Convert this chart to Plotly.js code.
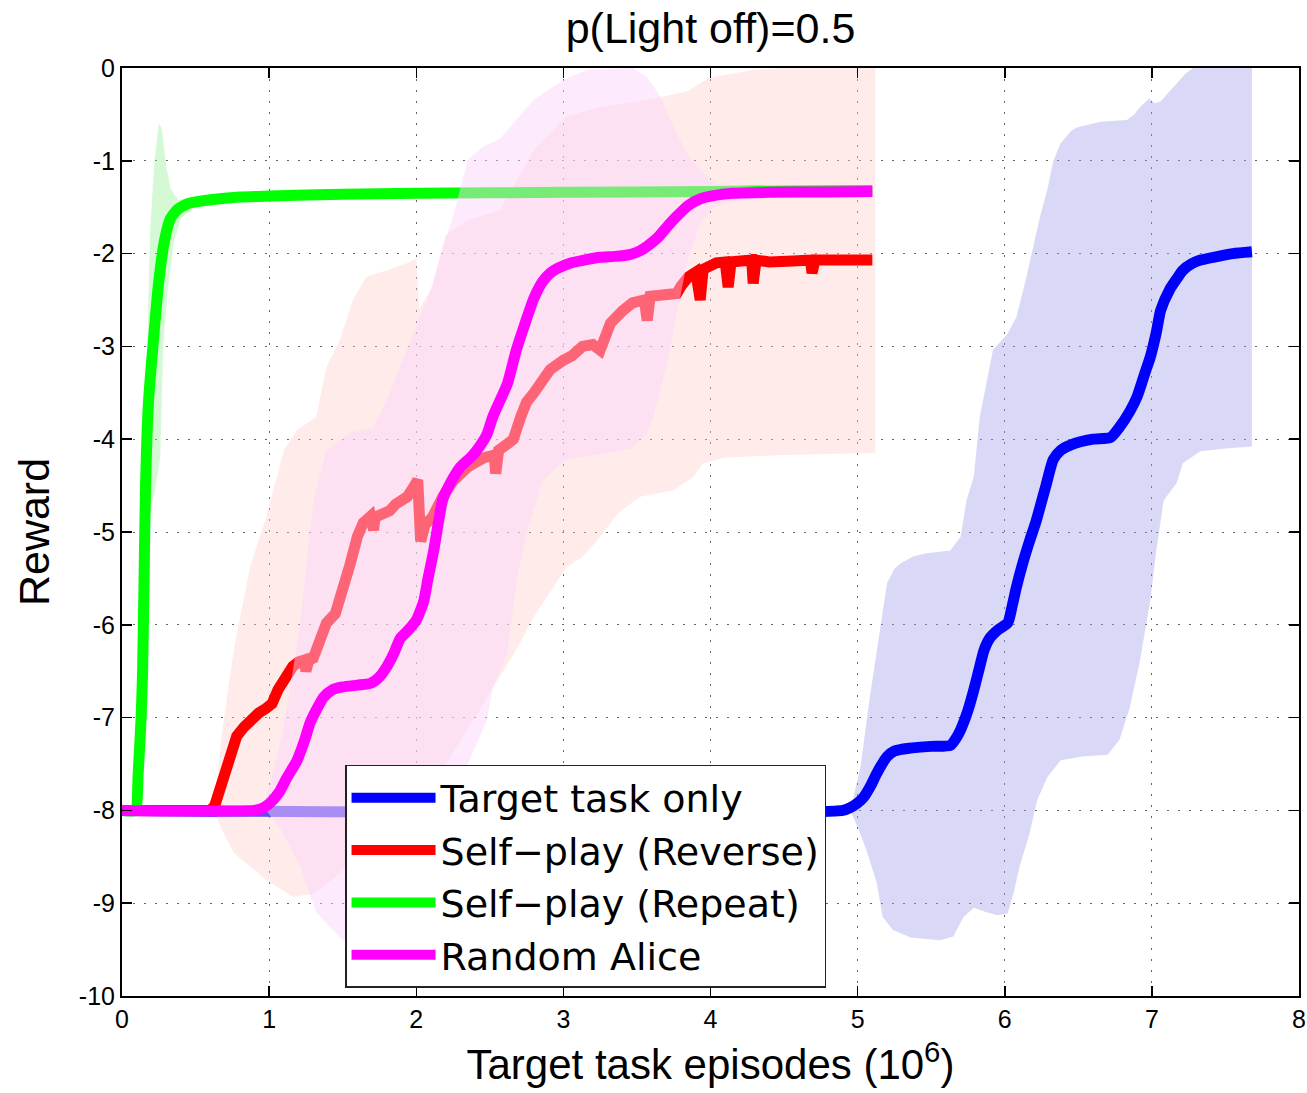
<!DOCTYPE html>
<html>
<head>
<meta charset="utf-8">
<script src="https://cdn.plot.ly/plotly-3.0.1.min.js"></script>
<style>
  html, body { margin: 0; padding: 0; background: #fff; }
  #chart { width: 1307px; height: 1093px; }
</style>
</head>
<body>
<div id="chart"></div>
<script>
// ---- Mean reward curves (x in millions of target task episodes) ----
const targetX = [0, 4.9, 4.95, 5.0, 5.04, 5.09, 5.13, 5.2, 5.25, 5.35, 5.5, 5.63, 5.67, 5.7, 5.75, 5.79, 5.83, 5.86, 5.9, 5.95, 6.02, 6.05, 6.08, 6.12, 6.17, 6.21, 6.24, 6.28, 6.33, 6.38, 6.45, 6.6, 6.72, 6.78, 6.85, 6.9, 6.95, 6.99, 7.03, 7.06, 7.12, 7.17, 7.21, 7.27, 7.33, 7.45, 7.55, 7.68];
const targetY = [-8, -8, -7.97, -7.92, -7.86, -7.73, -7.6, -7.42, -7.36, -7.33, -7.31, -7.3, -7.22, -7.13, -6.92, -6.7, -6.45, -6.27, -6.14, -6.06, -5.98, -5.8, -5.59, -5.35, -5.09, -4.9, -4.73, -4.5, -4.22, -4.12, -4.06, -4.0, -3.98, -3.87, -3.7, -3.54, -3.3, -3.11, -2.85, -2.61, -2.39, -2.27, -2.18, -2.11, -2.07, -2.03, -2.0, -1.98];

const reverseX = [0, 0.6, 0.63, 0.66, 0.69, 0.71, 0.74, 0.78, 0.83, 0.87, 0.93, 0.98, 1.02, 1.06, 1.1, 1.16, 1.2, 1.24, 1.25, 1.27, 1.3, 1.35, 1.39, 1.45, 1.5, 1.55, 1.6, 1.64, 1.69, 1.71, 1.72, 1.78, 1.82, 1.86, 1.94, 1.98, 2.01, 2.03, 2.06, 2.11, 2.15, 2.18, 2.25, 2.35, 2.46, 2.53, 2.54, 2.56, 2.62, 2.66, 2.71, 2.75, 2.8, 2.86, 2.91, 3.0, 3.06, 3.13, 3.2, 3.25, 3.28, 3.32, 3.4, 3.47, 3.55, 3.57, 3.59, 3.65, 3.72, 3.77, 3.8, 3.85, 3.9, 3.93, 3.95, 4.0, 4.04, 4.1, 4.12, 4.14, 4.22, 4.28, 4.29, 4.31, 4.4, 4.49, 4.56, 4.68, 4.69, 4.71, 4.84, 4.95, 5.1];
const reverseY = [-8, -8, -7.95, -7.8, -7.6, -7.5, -7.35, -7.2, -7.1, -7.03, -6.95, -6.9, -6.85, -6.7, -6.58, -6.45, -6.4, -6.38, -6.5, -6.38, -6.36, -6.16, -5.98, -5.88, -5.65, -5.35, -5.05, -4.9, -4.83, -4.98, -4.84, -4.8, -4.77, -4.7, -4.62, -4.52, -4.44, -5.1, -4.92, -4.84, -4.7, -4.62, -4.45, -4.3, -4.2, -4.17, -4.37, -4.12, -4.05, -4.0, -3.76, -3.6, -3.5, -3.36, -3.25, -3.15, -3.1, -3.0, -2.98, -3.04, -2.9, -2.75, -2.62, -2.53, -2.5, -2.72, -2.46, -2.44, -2.42, -2.43, -2.35, -2.25, -2.2, -2.5, -2.17, -2.12, -2.1, -2.09, -2.36, -2.09, -2.08, -2.07, -2.32, -2.07, -2.09, -2.1, -2.08, -2.07, -2.21, -2.07, -2.07, -2.06, -2.07];

const repeatX = [0, 0.09, 0.11, 0.13, 0.14, 0.15, 0.16, 0.18, 0.21, 0.25, 0.29, 0.33, 0.38, 0.45, 0.6, 0.8, 1.0, 1.5, 2.0, 3.0, 4.0, 5.1];
const repeatY = [-8, -8, -7.6, -7.0, -6.5, -5.5, -4.5, -3.6, -3.0, -2.3, -1.85, -1.62, -1.52, -1.46, -1.42, -1.39, -1.38, -1.36, -1.35, -1.34, -1.33, -1.32];

const aliceX = [0, 0.9, 0.95, 1.0, 1.07, 1.12, 1.19, 1.24, 1.28, 1.32, 1.37, 1.43, 1.5, 1.6, 1.69, 1.75, 1.8, 1.85, 1.89, 1.95, 2.0, 2.05, 2.08, 2.12, 2.15, 2.18, 2.24, 2.3, 2.38, 2.43, 2.48, 2.52, 2.57, 2.62, 2.68, 2.74, 2.8, 2.86, 2.91, 2.96, 3.05, 3.14, 3.25, 3.35, 3.45, 3.52, 3.57, 3.64, 3.7, 3.77, 3.85, 3.93, 4.04, 4.15, 4.4, 4.8, 5.1];
const aliceY = [-8, -8, -7.98, -7.93, -7.8, -7.65, -7.46, -7.25, -7.05, -6.92, -6.78, -6.7, -6.67, -6.65, -6.63, -6.56, -6.45, -6.3, -6.15, -6.05, -5.95, -5.75, -5.5, -5.19, -4.9, -4.65, -4.45, -4.3, -4.18, -4.08, -3.95, -3.76, -3.58, -3.4, -3.04, -2.75, -2.48, -2.3, -2.21, -2.16, -2.1, -2.07, -2.04, -2.03, -2.01, -1.97, -1.92, -1.83, -1.72, -1.6, -1.48, -1.41, -1.37, -1.35, -1.34, -1.335, -1.33];

// ---- Spread bands: upper and lower edges ----
const targetUpX = [4.95, 5.02, 5.08, 5.15, 5.2, 5.25, 5.29, 5.38, 5.47, 5.63, 5.7, 5.74, 5.79, 5.83, 5.88, 5.92, 6.02, 6.08, 6.14, 6.19, 6.24, 6.29, 6.33, 6.38, 6.45, 6.49, 6.65, 6.83, 6.88, 6.92, 6.98, 7.02, 7.06, 7.12, 7.17, 7.23, 7.28, 7.68];
const targetUpY = [-8, -7.53, -6.81, -6.09, -5.55, -5.4, -5.34, -5.26, -5.23, -5.2, -5.05, -4.66, -4.4, -3.76, -3.35, -3.04, -2.86, -2.68, -2.3, -1.96, -1.6, -1.31, -1.0, -0.81, -0.68, -0.64, -0.58, -0.56, -0.5, -0.42, -0.33, -0.38, -0.36, -0.25, -0.16, -0.06, 0, 0];
const targetLoX = [4.95, 5.0, 5.06, 5.13, 5.17, 5.24, 5.36, 5.56, 5.65, 5.72, 5.79, 5.88, 5.95, 6.02, 6.06, 6.1, 6.17, 6.22, 6.29, 6.38, 6.53, 6.7, 6.78, 6.85, 6.92, 6.99, 7.03, 7.08, 7.17, 7.21, 7.33, 7.5, 7.68];
const targetLoY = [-8, -8.18, -8.43, -8.78, -9.15, -9.29, -9.37, -9.4, -9.36, -9.15, -9.05, -9.1, -9.13, -9.11, -8.89, -8.61, -8.24, -7.89, -7.64, -7.46, -7.42, -7.4, -7.24, -6.89, -6.38, -5.73, -5.2, -4.66, -4.47, -4.26, -4.13, -4.1, -4.08];

const reverseUpX = [0.63, 0.67, 0.72, 0.76, 0.87, 0.98, 1.1, 1.19, 1.32, 1.39, 1.48, 1.57, 1.66, 1.8, 1.94, 2.0, 2.02, 2.11, 2.2, 2.35, 2.57, 2.8, 3.02, 3.25, 3.59, 3.84, 4.0, 4.3, 4.5, 5.12];
const reverseUpY = [-8, -7.3, -6.7, -6.27, -5.38, -4.84, -4.12, -3.9, -3.76, -3.22, -2.93, -2.5, -2.25, -2.18, -2.1, -2.05, -2.6, -2.36, -1.8, -1.64, -1.53, -0.88, -0.52, -0.42, -0.34, -0.25, -0.1, -0.02, 0, 0];
const reverseLoX = [0.63, 0.67, 0.76, 0.98, 1.16, 1.3, 1.48, 1.73, 2.0, 2.2, 2.4, 2.55, 2.68, 2.8, 3.02, 3.13, 3.25, 3.37, 3.52, 3.75, 3.88, 3.95, 4.09, 4.49, 5.12];
const reverseLoY = [-8, -8.18, -8.46, -8.75, -8.93, -8.9, -8.68, -8.3, -7.9, -7.5, -7.0, -6.6, -6.27, -5.91, -5.38, -5.27, -5.05, -4.8, -4.62, -4.55, -4.41, -4.26, -4.2, -4.17, -4.15];

const repeatUpX = [0.09, 0.12, 0.15, 0.17, 0.19, 0.22, 0.25, 0.27, 0.3, 0.33, 0.38, 0.5, 1.0, 2.0, 3.0, 4.0, 5.1];
const repeatUpY = [-8, -6.5, -4.5, -3.2, -1.8, -1.0, -0.6, -0.65, -1.05, -1.3, -1.42, -1.4, -1.35, -1.32, -1.31, -1.3, -1.29];
const repeatLoX = [0.09, 0.13, 0.15, 0.18, 0.22, 0.26, 0.28, 0.31, 0.35, 0.4, 0.5, 1.0, 2.0, 3.0, 4.0, 5.1];
const repeatLoY = [-8, -7.0, -5.5, -4.8, -4.6, -4.2, -3.0, -2.4, -1.9, -1.62, -1.5, -1.41, -1.38, -1.37, -1.36, -1.35];

const aliceUpX = [0.95, 1.0, 1.1, 1.21, 1.3, 1.39, 1.55, 1.71, 1.8, 1.89, 1.98, 2.09, 2.16, 2.25, 2.35, 2.45, 2.57, 2.8, 3.0, 3.16, 3.47, 3.57, 3.66, 3.75, 3.84, 3.93, 4.04, 4.3, 5.1];
const aliceUpY = [-8, -7.75, -7.1, -6.0, -4.66, -4.12, -3.93, -3.87, -3.58, -3.22, -2.86, -2.43, -2.04, -1.6, -0.99, -0.85, -0.76, -0.34, -0.13, -0.02, 0, -0.1, -0.31, -0.64, -0.92, -1.1, -1.25, -1.28, -1.29];
const aliceLoX = [0.95, 0.98, 1.07, 1.21, 1.32, 1.5, 1.75, 2.0, 2.2, 2.35, 2.48, 2.52, 2.62, 2.68, 2.75, 2.86, 3.02, 3.3, 3.47, 3.57, 3.61, 3.7, 3.77, 3.84, 3.93, 4.02, 4.2, 4.6, 5.1];
const aliceLoY = [-8, -8.0, -8.18, -8.6, -9.1, -9.4, -9.35, -8.8, -8.0, -7.5, -7.03, -6.67, -6.3, -5.55, -5.01, -4.44, -4.22, -4.15, -4.1, -3.93, -3.76, -3.22, -2.68, -2.1, -1.67, -1.5, -1.42, -1.38, -1.37];

// ---- Labels ----
const seriesNames = ['Target task only', 'Self\u2212play (Reverse)', 'Self\u2212play (Repeat)', 'Random Alice'];
const xTickVals = [0, 1, 2, 3, 4, 5, 6, 7, 8];
const xTickText = ['0', '1', '2', '3', '4', '5', '6', '7', '8'];
const yTickVals = [-10, -9, -8, -7, -6, -5, -4, -3, -2, -1, 0];
const yTickText = ['-10', '-9', '-8', '-7', '-6', '-5', '-4', '-3', '-2', '-1', '0'];

// Closed polygon from an upper edge followed by the reversed lower edge
function bandTrace(upX, upY, loX, loY, fillcolor) {
  return {
    x: upX.concat(loX.slice().reverse()),
    y: upY.concat(loY.slice().reverse()),
    type: 'scatter', mode: 'lines', fill: 'toself',
    fillcolor: fillcolor, line: { width: 0, color: 'rgba(0,0,0,0)' },
    hoverinfo: 'skip', showlegend: false
  };
}
function lineTrace(x, y, name, color, smooth) {
  const line = { color: color, width: 11 };
  if (smooth) { line.shape = 'spline'; line.smoothing = smooth; }
  return { x: x, y: y, name: name, type: 'scatter', mode: 'lines', line: line };
}

const traces = [
  bandTrace(targetUpX, targetUpY, targetLoX, targetLoY, 'rgba(160,160,235,0.4)'),
  lineTrace(targetX, targetY, seriesNames[0], '#0000ff', 0.6),
  bandTrace(reverseUpX, reverseUpY, reverseLoX, reverseLoY, 'rgba(255,205,200,0.38)'),
  lineTrace(reverseX, reverseY, seriesNames[1], '#ff0000', 0),
  bandTrace(repeatUpX, repeatUpY, repeatLoX, repeatLoY, 'rgba(150,240,150,0.4)'),
  lineTrace(repeatX, repeatY, seriesNames[2], '#00ff00', 0.5),
  bandTrace(aliceUpX, aliceUpY, aliceLoX, aliceLoY, 'rgba(250,212,250,0.47)'),
  lineTrace(aliceX, aliceY, seriesNames[3], '#ff00ff', 0.6)
];

const FONT = 'Liberation Sans, Arial, Helvetica, sans-serif';
const axisCommon = {
  showline: true, linecolor: '#000', linewidth: 2, mirror: 'ticks',
  ticks: 'inside', ticklen: 10, tickwidth: 1.5, tickcolor: '#000',
  showgrid: true, gridcolor: '#666', gridwidth: 1, griddash: '2px,9px',
  zeroline: false, tickfont: { family: FONT, size: 25, color: '#000' }
};

const layout = {
  width: 1307, height: 1093,
  margin: { l: 122, r: 8, t: 68, b: 97 },
  paper_bgcolor: '#fff', plot_bgcolor: '#fff',
  font: { family: FONT, color: '#000' },
  title: {
    text: 'p(Light off)=0.5', font: { family: FONT, size: 43, color: '#000' },
    xref: 'paper', x: 0.5, xanchor: 'center', yref: 'container', y: 0.974, yanchor: 'middle'
  },
  xaxis: Object.assign({}, axisCommon, {
    range: [0, 8], tickvals: xTickVals, ticktext: xTickText,
    title: { text: 'Target task episodes (10<sup>6</sup>)', font: { family: FONT, size: 42, color: '#000' }, standoff: 18 }
  }),
  yaxis: Object.assign({}, axisCommon, {
    range: [-10, 0], tickvals: yTickVals, ticktext: yTickText,
    title: { text: 'Reward', font: { family: FONT, size: 43, color: '#000' }, standoff: 16 }
  }),
  legend: {
    x: 0.1895, y: 0.249, xanchor: 'left', yanchor: 'top',
    bgcolor: '#fff', bordercolor: '#222', borderwidth: 1.5,
    font: { family: 'DejaVu Sans, Liberation Sans, sans-serif', size: 38, color: '#000' },
    itemwidth: 84, tracegroupgap: 0
  },
  showlegend: true
};

Plotly.newPlot('chart', traces, layout, { staticPlot: true, displayModeBar: false });
</script>
</body>
</html>
